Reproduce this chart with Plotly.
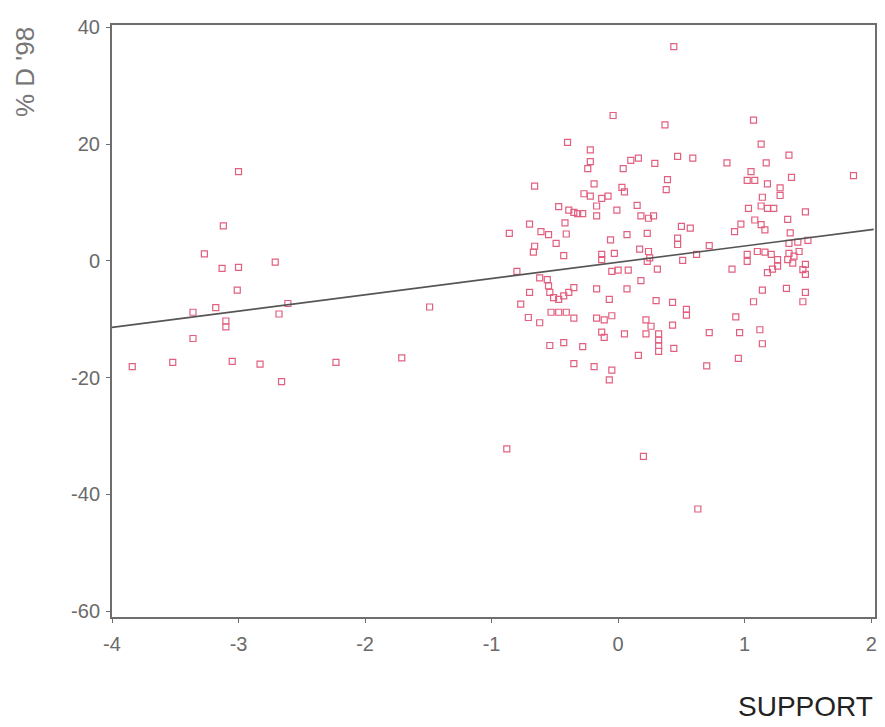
import plotly.graph_objects as go

# --- data ---
# outlying group on the left
left_x = [-3.00, -3.12, -3.27, -3.13, -3.00, -2.71, -3.01, -3.36, -3.18, -2.61, -2.68,
          -3.10, -3.10, -1.49, -3.36, -3.84, -3.52, -3.05, -2.83, -2.66, -2.23, -1.71]
left_y = [15.3, 6.0, 1.2, -1.3, -1.1, -0.2, -5.0, -8.8, -8.0, -7.3, -9.1,
          -10.3, -11.3, -7.9, -13.3, -18.1, -17.4, -17.2, -17.7, -20.7, -17.4, -16.6]

# main cluster, upper half
upper_x = [0.44, -0.04, 0.37, 1.07, -0.40, 1.13, -0.22, 1.35, 0.47, 0.59, 0.16, 0.10,
           -0.22, 0.29, 0.86, 1.17, -0.24, 0.04, 1.86, 1.37, 1.05, 1.02, 1.08, 1.18,
           0.39, 0.38, -0.66, -0.19, 0.03, 0.05, 1.28, 1.28, -0.27, -0.22, -0.13, -0.08,
           1.14, -0.47, -0.17, -0.39, -0.35, -0.32, -0.28, -0.01, 0.15, 1.03, 1.13, 1.18,
           1.23, 1.48, -0.17, 0.18, 0.24, 0.28, -0.70, -0.42, 1.08, 1.13, 1.16, 1.34,
           0.97, 0.92, -0.86, -0.61, -0.55, -0.49, -0.41, 0.50, 0.57, 0.07, 0.23, 1.36,
           -0.06, 0.47, 0.47, -0.66, -0.67, 0.72, 1.35, 1.42, 1.50, -0.43, -0.13, -0.13,
           -0.03, 0.17, 0.24, 0.25, 0.62, 0.51, 1.02, 1.02, 1.10, 1.16, 1.21, 1.26,
           1.35, 1.39, 1.43, 1.34]
upper_y = [36.7, 24.9, 23.3, 24.1, 20.3, 20.0, 19.0, 18.1, 17.9, 17.6, 17.6, 17.2,
           17.0, 16.7, 16.8, 16.8, 15.8, 15.8, 14.6, 14.3, 15.3, 13.8, 13.8, 13.2,
           13.9, 12.2, 12.8, 13.2, 12.6, 11.8, 12.5, 11.2, 11.5, 11.1, 10.7, 11.1,
           10.9, 9.3, 9.4, 8.7, 8.3, 8.1, 8.1, 8.7, 9.5, 9.0, 9.4, 9.0,
           9.0, 8.4, 7.7, 7.7, 7.3, 7.7, 6.3, 6.5, 7.0, 6.2, 5.3, 7.1,
           6.3, 5.0, 4.7, 5.0, 4.5, 3.0, 4.6, 5.9, 5.6, 4.5, 4.7, 4.8,
           3.6, 3.9, 2.8, 2.5, 1.5, 2.6, 3.0, 3.2, 3.5, 0.9, 1.1, 0.2,
           1.3, 2.0, 1.6, 0.5, 1.1, 0.1, 1.1, -0.1, 1.6, 1.5, 1.1, 0.2,
           1.3, 0.8, 1.6, 0.2]

# main cluster, lower half
lower_x = [1.38, 1.48, 1.46, 1.48, 1.18, 1.22, 1.26, 0.90, 0.23, -0.05, 0.00, 0.08,
           0.31, -0.80, 0.18, -0.62, -0.56, -0.55, -0.54, -0.51, -0.47, -0.43, -0.39,
           -0.35, -0.70, -0.77, -0.17, 0.07, 0.30, 0.43, 0.54, 0.54, 0.93, 1.07, 1.14,
           1.33, 1.48, 1.46, -0.71, -0.62, -0.53, -0.47, -0.41, -0.35, -0.17, -0.11,
           -0.05, -0.07, 0.22, 0.43, -0.13, -0.11, 0.05, 0.26, 0.32, 0.22, 0.32, 0.32,
           0.32, 0.44, 0.72, 0.96, 1.12, 1.14, 0.95, 0.70, 0.16, -0.54, -0.43, -0.28,
           -0.35, -0.19, -0.05, -0.07]
lower_y = [-0.4, -0.6, -1.5, -2.3, -2.0, -1.4, -0.9, -1.4, -0.1, -1.8, -1.6, -1.6,
           -1.4, -1.8, -3.4, -2.9, -3.2, -4.3, -5.4, -6.3, -6.6, -6.0, -5.4,
           -4.6, -5.4, -7.4, -4.8, -4.8, -6.8, -7.1, -8.3, -9.3, -9.6, -7.0, -5.0,
           -4.7, -5.4, -7.0, -9.7, -10.6, -8.8, -8.8, -8.8, -9.8, -9.8, -10.1,
           -9.4, -6.6, -10.1, -11.0, -12.2, -13.1, -12.5, -11.2, -12.5, -12.5, -13.6, -14.5,
           -15.5, -15.0, -12.3, -12.3, -11.8, -14.2, -16.7, -18.0, -16.2, -14.5, -14.0, -14.7,
           -17.6, -18.1, -18.7, -20.4]

# far outliers
outlier_x = [-0.88, 0.20, 0.63]
outlier_y = [-32.2, -33.5, -42.5]

# fitted regression line (end points)
fit_x = [-4.0, 2.02]
fit_y = [-11.4, 5.4]

x_ticks = [-4, -3, -2, -1, 0, 1, 2]
y_ticks = [-60, -40, -20, 0, 20, 40]

all_x = left_x + upper_x + lower_x + outlier_x
all_y = left_y + upper_y + lower_y + outlier_y

PINK = '#e2607f'
AXIS = '#6e6e6e'
FONT = 'Liberation Sans, Arial, sans-serif'

fig = go.Figure()

fig.add_trace(go.Scatter(
    x=all_x, y=all_y, mode='markers',
    marker=dict(symbol='square-open', size=6, color=PINK, line=dict(width=1.2, color=PINK)),
    showlegend=False, hoverinfo='x+y'
))

fig.add_trace(go.Scatter(
    x=fit_x, y=fit_y, mode='lines',
    line=dict(color='#555555', width=1.6),
    showlegend=False, hoverinfo='skip'
))

# page body adds an 8px margin, so the figure is sized to fit inside it
fig.update_layout(
    width=877, height=719,
    margin=dict(l=104, r=8, t=12, b=110),
    paper_bgcolor='white', plot_bgcolor='white',
    font=dict(family=FONT, color='#6a6a6a', size=20),
)

fig.update_xaxes(
    range=[-4.0, 2.03], tickvals=x_ticks, ticktext=[str(v) for v in x_ticks],
    showgrid=False, zeroline=False, showline=True, linecolor=AXIS, linewidth=2,
    mirror=True, ticks='outside', ticklen=4, tickcolor=AXIS, ticklabelstandoff=4,
    tickfont=dict(size=20, color='#6a6a6a')
)
fig.update_yaxes(
    range=[-61.0, 40.4], tickvals=y_ticks, ticktext=[str(v) for v in y_ticks],
    showgrid=False, zeroline=False, showline=True, linecolor=AXIS, linewidth=2,
    mirror=True, ticks='outside', ticklen=4, tickcolor=AXIS, ticklabelstandoff=2,
    tickfont=dict(size=20, color='#6a6a6a')
)

# axis titles placed where the reference puts them
fig.add_annotation(
    text="% D '98", textangle=-90, showarrow=False,
    xref='paper', yref='paper', x=-0.114, y=1.0, xanchor='center', yanchor='top',
    font=dict(size=26, color='#777777', family=FONT)
)
fig.add_annotation(
    text='SUPPORT', showarrow=False,
    xref='paper', yref='paper', x=1.0, y=-0.152, xanchor='right', yanchor='middle',
    font=dict(size=28, color='#222222', family=FONT)
)

fig.write_html("out.html")
